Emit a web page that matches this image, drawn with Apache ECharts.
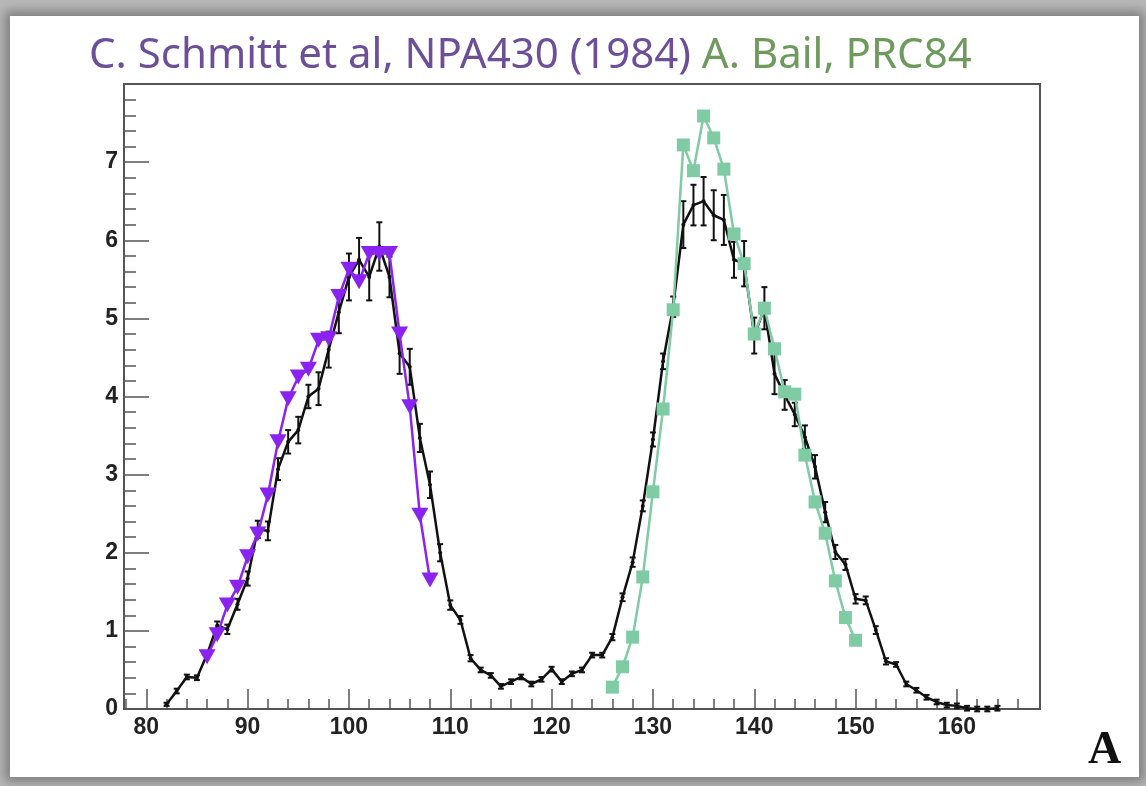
<!DOCTYPE html>
<html>
<head>
<meta charset="utf-8">
<script src="https://cdn.jsdelivr.net/npm/echarts@6/dist/echarts.min.js"></script>
<style>
html,body{margin:0;padding:0;width:1146px;height:786px;overflow:hidden;background:#b8b8b8;}
#card{position:absolute;left:10px;top:16px;width:1129px;height:761px;background:#fff;box-shadow:0 0 10px 5px rgba(70,70,70,0.5);}
#chart{position:absolute;left:0;top:0;width:1146px;height:786px;}
</style>
</head>
<body>
<div id="card"></div>
<div id="chart"></div>
<script>
// ---- data ----
const blackX = [82,83,84,85,86,87,88,89,90,91,92,93,94,95,96,97,98,99,100,101,102,103,104,105,106,107,108,109,110,111,112,113,114,115,116,117,118,119,120,121,122,123,124,125,126,127,128,129,130,131,132,133,134,135,136,137,138,139,140,141,142,143,144,145,146,147,148,149,150,151,152,153,154,155,156,157,158,159,160,161,162,163,164];
const blackY = [0.06,0.23,0.41,0.40,0.70,1.07,1.02,1.34,1.67,2.30,2.28,3.07,3.42,3.57,4.00,4.10,4.60,5.08,5.53,5.75,5.53,5.92,5.53,4.55,4.38,3.47,2.87,2.00,1.33,1.14,0.65,0.50,0.43,0.29,0.35,0.41,0.32,0.38,0.51,0.35,0.45,0.50,0.69,0.69,0.92,1.43,1.88,2.60,3.45,4.45,5.15,6.20,6.45,6.50,6.32,6.26,5.75,5.70,4.78,5.13,4.29,4.02,3.77,3.48,3.10,2.52,2.01,1.85,1.41,1.39,1.01,0.61,0.57,0.32,0.24,0.15,0.09,0.05,0.04,0.01,0.00,0.00,0.01];
const blackErr = [0.02,0.03,0.03,0.03,0.04,0.05,0.06,0.07,0.09,0.11,0.12,0.14,0.15,0.17,0.15,0.21,0.23,0.27,0.30,0.28,0.30,0.31,0.26,0.26,0.23,0.18,0.17,0.11,0.06,0.05,0.04,0.03,0.03,0.03,0.03,0.03,0.03,0.03,0.03,0.03,0.03,0.03,0.03,0.03,0.04,0.05,0.06,0.07,0.09,0.10,0.13,0.30,0.26,0.31,0.32,0.32,0.23,0.29,0.23,0.27,0.26,0.19,0.15,0.15,0.15,0.13,0.09,0.07,0.06,0.05,0.05,0.04,0.03,0.03,0.03,0.03,0.03,0.03,0.03,0.03,0.03,0.03,0.03];

const schmittX = [86,87,88,89,90,91,92,93,94,95,96,97,98,99,100,101,102,103,104,105,106,107,108];
const schmittY = [0.67,0.95,1.33,1.56,1.95,2.24,2.74,3.42,3.97,4.25,4.35,4.72,4.74,5.28,5.63,5.47,5.83,5.83,5.83,4.80,3.87,2.48,1.65];

const bailX = [126,127,128,129,130,131,132,133,134,135,136,137,138,139,140,141,142,143,144,145,146,147,148,149,150];
const bailY = [0.28,0.54,0.92,1.69,2.78,3.84,5.11,7.22,6.89,7.59,7.31,6.91,6.08,5.70,4.80,5.13,4.61,4.06,4.03,3.25,2.65,2.25,1.64,1.17,0.88];

const xMajorTicks = [80,90,100,110,120,130,140,150,160];
const xMinorTicks = [78,82,84,86,88,92,94,96,98,102,104,106,108,112,114,116,118,122,124,126,128,132,134,136,138,142,144,146,148,152,154,156,158,162,164,166];
const yTickLabels = [0,1,2,3,4,5,6,7];

const titleLeft = 'C. Schmitt et al, NPA430 (1984)';
const titleRight = 'A. Bail, PRC84';
const panelLabel = 'A';

// ---- chart ----
const chart = echarts.init(document.getElementById('chart'), null, {renderer:'canvas'});
const zip = (xs, ys) => xs.map((x,i)=>[x, ys[i]]);
const errData = blackX.map((x,i)=>[x, blackY[i], blackErr[i]]);
const labelFont = {fontFamily:'Liberation Sans Narrow, Liberation Sans, Arial, sans-serif', fontWeight:'bold', fontSize:23, color:'#222'};

const option = {
  animation:false,
  backgroundColor:'transparent',
  title:{
    left:84, top:30,
    text:'{a|'+titleLeft+'} {b|'+titleRight+'}',
    textStyle:{
      fontFamily:'Noto Sans, Open Sans, sans-serif', fontSize:42, fontWeight:'normal',
      rich:{
        a:{color:'#6c4f98', fontSize:42, fontFamily:'Noto Sans, sans-serif'},
        b:{color:'#6f9a5e', fontSize:42, fontFamily:'Noto Sans, sans-serif'}
      }
    }
  },
  graphic:[{
    type:'text', left:1088, top:728,
    style:{text:panelLabel, font:'bold 46px "Liberation Serif", "Times New Roman", serif', fill:'#111'}
  }],
  grid:{left:124, top:84, width:916, height:625, show:true, borderColor:'#555', borderWidth:2, backgroundColor:'transparent'},
  xAxis:[{
    type:'value', min:77.8, max:168.2, position:'bottom',
    axisLine:{show:true, onZero:false, lineStyle:{color:'#555', width:2}},
    axisTick:{show:true, inside:true, length:20, customValues:xMajorTicks, lineStyle:{color:'#555', width:1.5}},
    axisLabel:Object.assign({show:true, margin:7, customValues:xMajorTicks}, labelFont),
    splitLine:{show:false}
  },{
    type:'value', min:77.8, max:168.2, position:'bottom', offset:0,
    axisLine:{show:false},
    axisTick:{show:true, inside:true, length:10, customValues:xMinorTicks, lineStyle:{color:'#555', width:1.5}},
    axisLabel:{show:false},
    splitLine:{show:false}
  }],
  yAxis:{
    type:'value', min:0, max:8, interval:1,
    axisLine:{show:true, onZero:false, lineStyle:{color:'#555', width:2}},
    axisTick:{show:true, inside:true, length:25, lineStyle:{color:'#555', width:1.5}},
    minorTick:{show:true, splitNumber:5, length:12, lineStyle:{color:'#555', width:1.5}},
    axisLabel:Object.assign({show:true, margin:6, customValues:yTickLabels}, labelFont),
    splitLine:{show:false}, minorSplitLine:{show:false}
  },
  series:[
    {
      type:'custom', name:'errors', xAxisIndex:0, z:3,
      data:errData,
      renderItem:function(params, api){
        const x = api.value(0), y = api.value(1), e = api.value(2);
        const t = api.coord([x, y+e]), b = api.coord([x, y-e]);
        const st = {stroke:'#111', lineWidth:2};
        return {type:'group', children:[
          {type:'line', shape:{x1:t[0], y1:t[1], x2:b[0], y2:b[1]}, style:st},
          {type:'line', shape:{x1:t[0]-3, y1:t[1], x2:t[0]+3, y2:t[1]}, style:st},
          {type:'line', shape:{x1:b[0]-3, y1:b[1], x2:b[0]+3, y2:b[1]}, style:st}
        ]};
      }
    },
    {
      type:'line', name:'data', xAxisIndex:0, z:4,
      data:zip(blackX, blackY),
      symbol:'circle', symbolSize:4, showSymbol:true,
      lineStyle:{color:'#111', width:2.5},
      itemStyle:{color:'#111'}
    },
    {
      type:'line', name:'Schmitt', xAxisIndex:0, z:5,
      data:zip(schmittX, schmittY),
      symbol:'triangle', symbolRotate:180, symbolSize:[17,15], showSymbol:true,
      lineStyle:{color:'#8a22f0', width:2.5},
      itemStyle:{color:'#8a22f0'}
    },
    {
      type:'line', name:'Bail', xAxisIndex:0, z:5,
      data:zip(bailX, bailY),
      symbol:'rect', symbolSize:13, showSymbol:true,
      lineStyle:{color:'#7fcba4', width:2.5},
      itemStyle:{color:'#7fcba4'}
    }
  ]
};
chart.setOption(option);
</script>
</body>
</html>
